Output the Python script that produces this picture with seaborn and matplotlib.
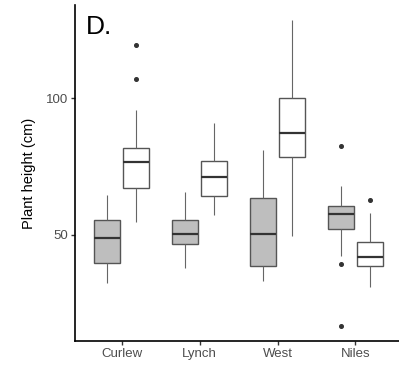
import numpy as np
import pandas as pd
import matplotlib
matplotlib.use("Agg")
import matplotlib.pyplot as plt
import seaborn as sns

sites = ["Curlew", "Lynch", "West", "Niles"]
groups = ["A", "B"]  # gray, white

# five-number summaries: whisker low, Q1, median, Q3, whisker high
gray_lo = [32.3, 37.8, 33.0, 42.2]
gray_q1 = [39.4, 46.7, 38.3, 52.2]
gray_med = [48.6, 50.1, 50.1, 57.5]
gray_q3 = [55.5, 55.3, 63.5, 60.6]
gray_hi = [64.5, 65.5, 81.2, 67.9]
gray_out = [[], [], [], [16.5, 39.3, 82.4]]

white_lo = [54.5, 57.0, 49.4, 30.6]
white_q1 = [67.0, 64.1, 78.3, 38.3]
white_med = [76.6, 71.0, 87.3, 41.7]
white_q3 = [81.7, 77.1, 100.1, 47.1]
white_hi = [95.7, 90.9, 128.7, 57.9]
white_out = [[107.0, 119.5], [], [], [62.8]]

rows = []
def add(group, lo, q1, med, q3, hi, out):
    for i, s in enumerate(sites):
        vals = [lo[i], hi[i]] + [q1[i]] * 10 + [med[i]] * 10 + [q3[i]] * 10 + out[i]
        for v in vals:
            rows.append({"site": s, "group": group, "height": v})
add("A", gray_lo, gray_q1, gray_med, gray_q3, gray_hi, gray_out)
add("B", white_lo, white_q1, white_med, white_q3, white_hi, white_out)
df = pd.DataFrame(rows)

sns.set_style("white")
plt.rcParams["font.family"] = ["Liberation Sans", "DejaVu Sans"]

fig = plt.figure(figsize=(3.99, 3.65), dpi=100)
ax = fig.add_axes([75 / 399, 24 / 365, 324 / 399, 336 / 365])

sns.boxplot(data=df, x="site", y="height", hue="group", order=sites,
            hue_order=groups, palette={"A": "#BEBEBE", "B": "#FFFFFF"},
            width=0.75, gap=0.1, dodge=True, whis=1.5, ax=ax, legend=False,
            linewidth=1.0, linecolor="#555555",
            medianprops={"color": "#333333", "linewidth": 1.6},
            whiskerprops={"color": "#666666", "linewidth": 0.8},
            capprops={"linewidth": 0},
            flierprops={"marker": "o", "markersize": 2.6,
                        "markerfacecolor": "#333333",
                        "markeredgecolor": "#333333"})

ax.set_xlim(-0.6, 3.559)
ax.set_ylim(10.9, 134.3)
ax.set_yticks([50, 100])
ax.set_xlabel("")
ax.set_ylabel("Plant height (cm)", fontsize=10.5, color="black", labelpad=7)
ax.tick_params(axis="both", which="major", length=3, width=1, color="#333333",
               labelsize=9.5, labelcolor="#4D4D4D", left=True, bottom=True, pad=2)
for side in ["top", "right"]:
    ax.spines[side].set_visible(False)
for side in ["left", "bottom"]:
    ax.spines[side].set_color("black")
    ax.spines[side].set_linewidth(1.2)

ax.text(0.033, 0.914, "D.", transform=ax.transAxes, fontsize=19,
        va="baseline", ha="left", color="black")

fig.savefig("out.png", dpi=100)
